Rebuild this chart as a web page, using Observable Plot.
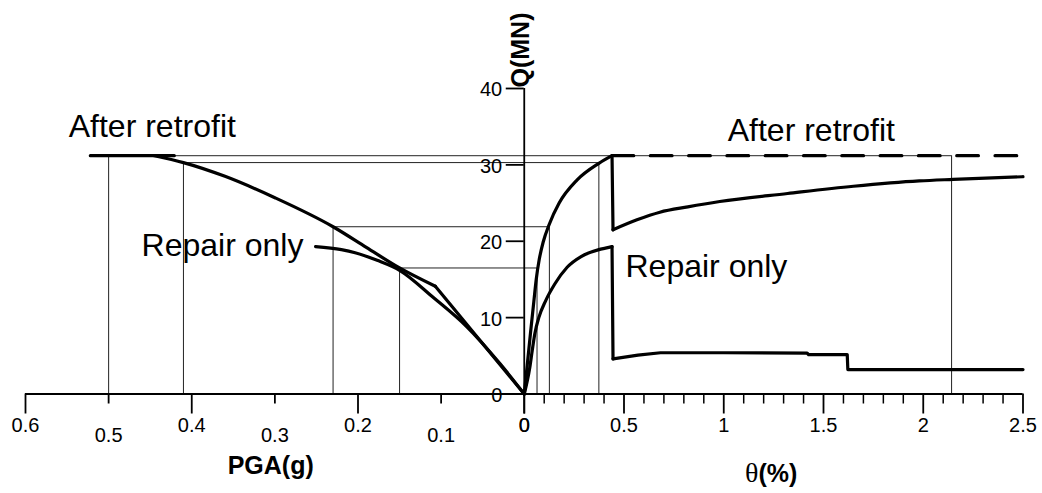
<!DOCTYPE html>
<html><head><meta charset="utf-8">
<script src="https://cdn.jsdelivr.net/npm/d3@7"></script>
<script src="https://cdn.jsdelivr.net/npm/@observablehq/plot@0.6"></script>
<style>
html,body{margin:0;padding:0;background:#fff;}
#chart svg{display:block;}
</style>
</head><body><div id="chart"></div>
<script>
// ---------- tick labels ----------
const pgaMajorTicks = [0.6, 0.4, 0.2, 0];
const pgaMinorTicks = [0.5, 0.3, 0.1];
const thetaMajorTicks = [0, 0.5, 1, 1.5, 2, 2.5];
const qTicks = [0, 10, 20, 30, 40];

// ---------- left panel: Q (MN) vs PGA (g) ----------
const pgaRetrofitPlateau = [[0.522, 31.2], [0.421, 31.2]];
const pgaRetrofitCurve = [[0.445, 31.2], [0.41, 30.3], [0.36, 28.5], [0.30, 25.7], [0.23, 21.9], [0.19, 19.2], [0.15, 16.5], [0.107, 14.1]];
const pgaRetrofitTail = [[0.107, 14.1], [0, 0]];
const pgaRepairCurve = [[0.251, 19.3], [0.22, 18.9], [0.2035, 18.5], [0.177, 17.5], [0.15, 16.2], [0.109, 12.6], [0.069, 8.8], [0.029, 3.95], [0, 0]];

// ---------- right panel: Q (MN) vs drift theta (%) ----------
const thetaRetrofitRise = [[0, 0], [0.015, 3.8], [0.031, 7.9], [0.048, 12.1], [0.060, 15.0], [0.075, 17.6], [0.095, 19.9], [0.125, 22.2], [0.175, 25.0], [0.264, 28.0], [0.374, 30.2], [0.44, 31.2]];
const thetaRetrofitResidual = [[0.445, 21.5], [0.565, 22.8], [0.68, 23.8], [0.82, 24.5], [0.98, 25.2], [1.32, 26.25], [1.65, 27.2], [1.98, 27.9], [2.15, 28.1], [2.5, 28.45]];
const thetaRetrofitCap = [[0.44, 31.2], [2.5, 31.2]];
const thetaRepairRise = [[0, 0], [0.028, 3.5], [0.040, 5.7], [0.053, 7.9], [0.073, 10.0], [0.107, 12.2], [0.153, 14.4], [0.215, 16.6], [0.285, 18.0], [0.374, 18.9], [0.407, 19.1], [0.44, 19.3]];
const thetaRepairResidual = [[0.445, 4.6], [0.57, 5.1], [0.683, 5.4], [1.0, 5.4], [1.418, 5.35], [1.425, 5.15], [1.619, 5.15], [1.622, 3.2], [2.5, 3.2]];

// ---------- reference (projection) lines ----------
const refPga = [0.5, 0.41, 0.23, 0.15];
const refTheta = [2.142, 0.374, 0.126, 0.064];
const refQ = [31.2, 30.3, 21.9, 16.5];

// ---------- layout ----------
const W = 1042, H = 493;
const mL = 25, mR = 19.5, mT = 88, mB = 99.5;
const pxPerX = (W - mL - mR) / 5;
const pxPerY = (H - mT - mB) / 40;
const K = 2.5 / 0.6;                 // PGA 0.6 g spans the same width as theta 2.5 %
const fromPga = p => -p * K;
const font = "Liberation Sans, Arial, Helvetica, sans-serif";

const thetaMinorTicks = [];
for (let i = 1; i < 25; i++) if (i % 5 !== 0) thetaMinorTicks.push(i / 10);

const lp = arr => arr.map(([p, q]) => ({x: fromPga(p), q}));
const lt = arr => arr.map(([t, q]) => ({x: t, q}));
const curveW = 3.2;

const plot = Plot.plot({
  width: W, height: H,
  marginLeft: mL, marginRight: mR, marginTop: mT, marginBottom: mB,
  x: {domain: [-2.5, 2.5], axis: null},
  y: {domain: [0, 40], axis: null},
  style: {fontFamily: font, background: "#fff", color: "#000", overflow: "visible"},
  marks: [
    // projection lines
    Plot.ruleX(refPga.map((p, i) => ({x: fromPga(p), q: refQ[i]})), {x: "x", y1: 0, y2: "q", stroke: "#222", strokeWidth: 1}),
    Plot.ruleX(refTheta.map((t, i) => ({x: t, q: refQ[i]})), {x: "x", y1: 0, y2: "q", stroke: "#222", strokeWidth: 1}),
    Plot.ruleY(refQ.map((q, i) => ({q, x1: fromPga(refPga[i]), x2: refTheta[i]})), {y: "q", x1: "x1", x2: "x2", stroke: "#222", strokeWidth: 1}),

    // axes lines
    Plot.ruleY([0], {x1: -2.5, x2: 2.5, stroke: "#000", strokeWidth: 1.8}),
    Plot.ruleX([0], {y1: 0, y2: 40, stroke: "#000", strokeWidth: 1.8}),

    // x ticks
    Plot.ruleX(pgaMajorTicks, {x: d => fromPga(d), y1: 0, y2: -20 / pxPerY, strokeWidth: 1.8}),
    Plot.ruleX(pgaMinorTicks, {x: d => fromPga(d), y1: 0, y2: -10 / pxPerY, strokeWidth: 1.8}),
    Plot.ruleX(thetaMajorTicks, {x: d => d, y1: 0, y2: -20 / pxPerY, strokeWidth: 1.8}),
    Plot.ruleX(thetaMinorTicks, {x: d => d, y1: 0, y2: -10 / pxPerY, strokeWidth: 1.5}),
    // y ticks
    Plot.ruleY(qTicks, {y: d => d, x1: -18 / pxPerX, x2: 0, strokeWidth: 1.8}),

    // tick labels
    Plot.text(pgaMajorTicks, {x: d => fromPga(d), y: 0, text: d => String(d), dy: 32, fontSize: 20}),
    Plot.text(pgaMinorTicks, {x: d => fromPga(d), y: 0, text: d => String(d), dy: 42, fontSize: 20}),
    Plot.text(thetaMajorTicks, {x: d => d, y: 0, text: d => String(d), dy: 32, fontSize: 20}),
    Plot.text(qTicks, {x: 0, y: d => d, text: d => String(d), textAnchor: "end", dx: -22, dy: 1.5, fontSize: 20}),

    // axis titles
    Plot.text(["PGA(g)"], {x: fromPga(0.305), y: 0, text: d => d, dy: 72, fontSize: 25, fontWeight: "bold"}),
    Plot.text(["\u03B8"], {x: 1.174, y: 0, text: d => d, textAnchor: "end", dy: 79, fontSize: 28, fontFamily: "Liberation Serif, DejaVu Serif, serif"}),
    Plot.text(["(%)"], {x: 1.174, y: 0, text: d => d, textAnchor: "start", dy: 79.5, fontSize: 25, fontWeight: "bold"}),
    Plot.text(["Q(MN)"], {x: 0, y: 40, text: d => d, rotate: -90, textAnchor: "start", dx: -3, dy: -1, fontSize: 25, fontWeight: "bold"}),

    // curves (left)
    Plot.line(lp(pgaRetrofitPlateau), {x: "x", y: "q", stroke: "#000", strokeWidth: curveW}),
    Plot.line(lp(pgaRetrofitCurve), {x: "x", y: "q", stroke: "#000", strokeWidth: curveW, curve: "monotone-x"}),
    Plot.line(lp(pgaRetrofitTail), {x: "x", y: "q", stroke: "#000", strokeWidth: curveW}),
    Plot.line(lp(pgaRepairCurve), {x: "x", y: "q", stroke: "#000", strokeWidth: curveW, curve: "monotone-x"}),

    // curves (right)
    Plot.line(lt(thetaRetrofitRise), {x: "x", y: "q", stroke: "#000", strokeWidth: curveW, curve: "monotone-x"}),
    Plot.line(lt([thetaRetrofitRise[thetaRetrofitRise.length - 1], thetaRetrofitResidual[0]]), {x: "x", y: "q", stroke: "#000", strokeWidth: curveW}),
    Plot.line(lt(thetaRetrofitResidual), {x: "x", y: "q", stroke: "#000", strokeWidth: curveW, curve: "monotone-x"}),
    Plot.line(lt(thetaRetrofitCap), {x: "x", y: "q", stroke: "#000", strokeWidth: curveW, strokeDasharray: "21.7,16.6"}),
    Plot.line(lt(thetaRepairRise), {x: "x", y: "q", stroke: "#000", strokeWidth: curveW, curve: "monotone-x"}),
    Plot.line(lt([thetaRepairRise[thetaRepairRise.length - 1], thetaRepairResidual[0]]), {x: "x", y: "q", stroke: "#000", strokeWidth: curveW}),
    Plot.line(lt(thetaRepairResidual), {x: "x", y: "q", stroke: "#000", strokeWidth: curveW}),

    // curve labels
    Plot.text(["After retrofit"], {x: fromPga(0.548), y: 35.0, text: d => d, textAnchor: "start", fontSize: 32}),
    Plot.text(["Repair only"], {x: fromPga(0.4604), y: 19.47, text: d => d, textAnchor: "start", fontSize: 32}),
    Plot.text(["After retrofit"], {x: 1.020, y: 34.44, text: d => d, textAnchor: "start", fontSize: 32}),
    Plot.text(["Repair only"], {x: 0.5075, y: 16.63, text: d => d, textAnchor: "start", fontSize: 32})
  ]
});
document.getElementById("chart").appendChild(plot);
</script>
</body></html>
